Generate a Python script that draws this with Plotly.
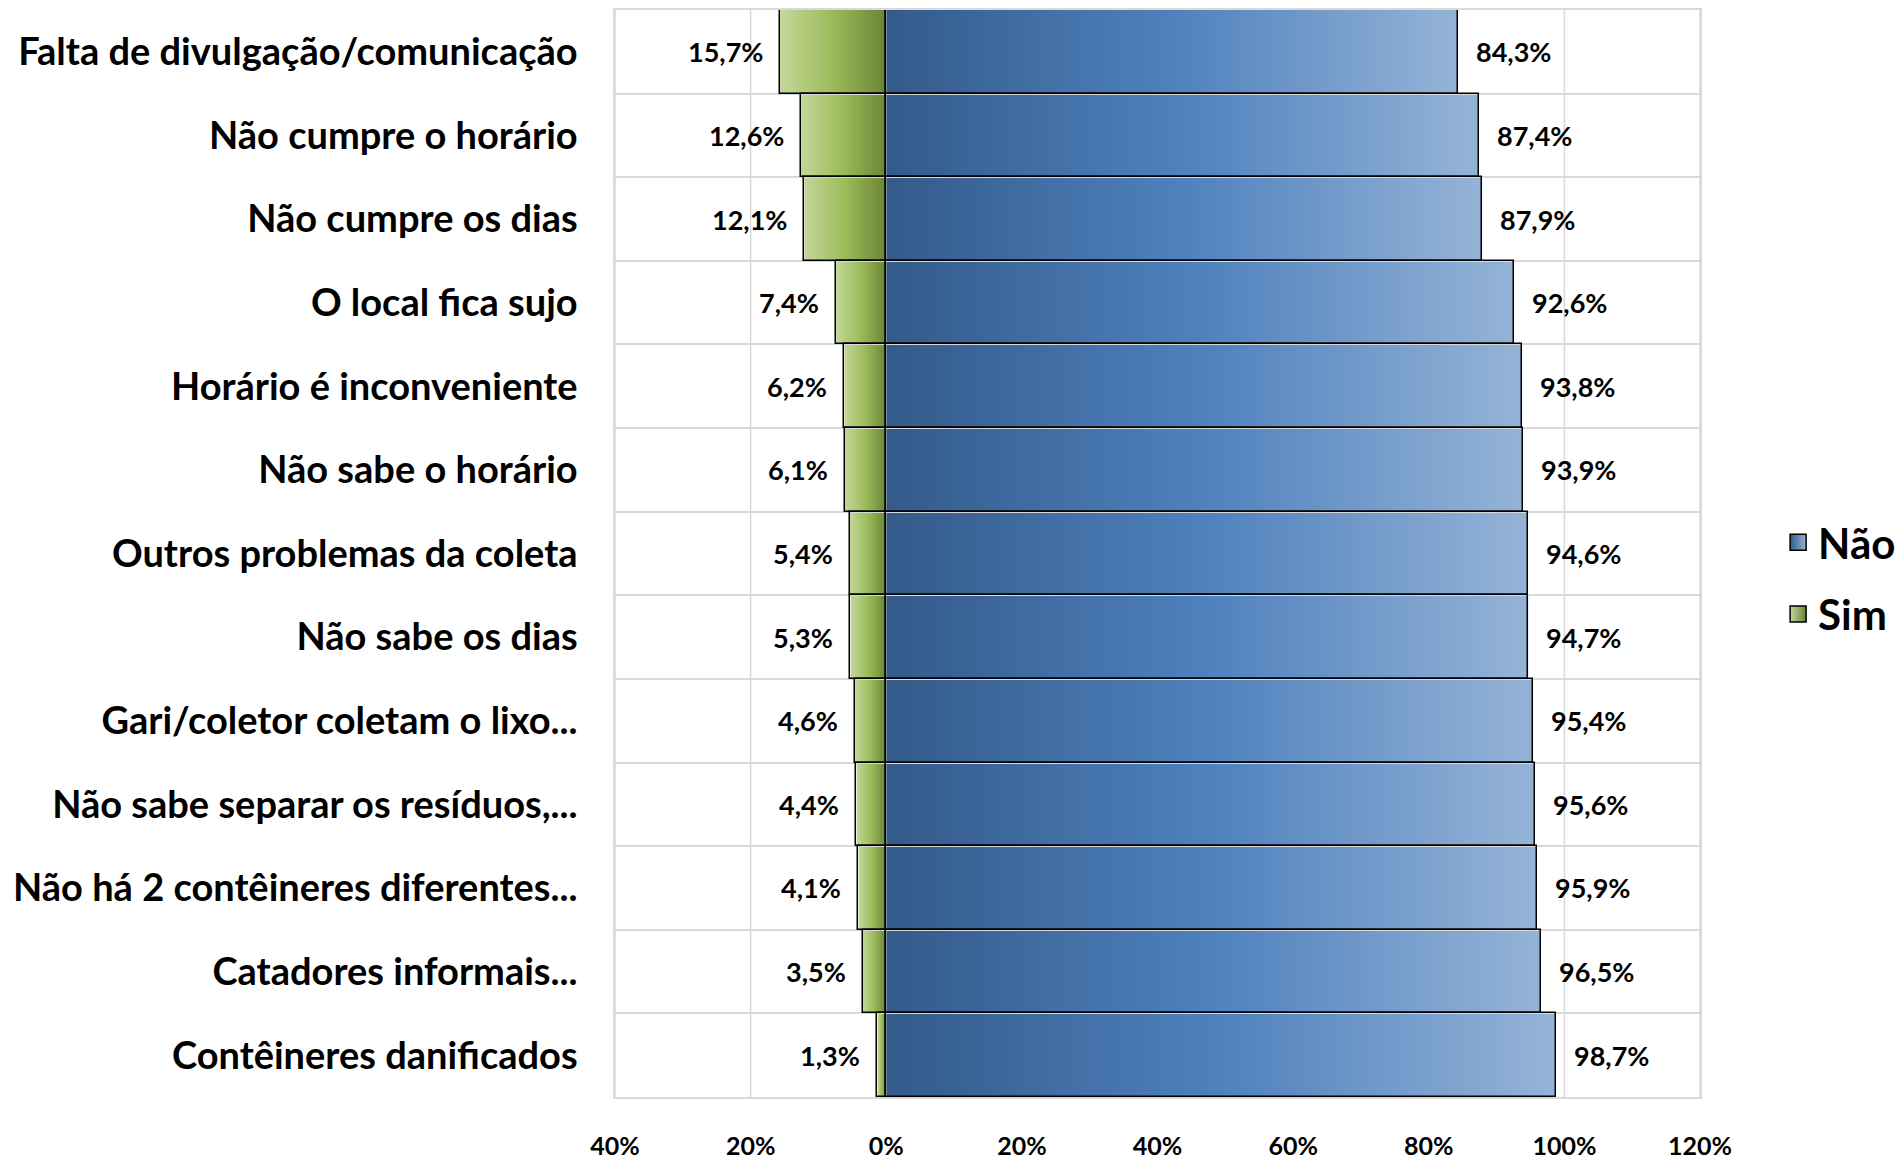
import base64
import plotly.graph_objects as go

categories = [
    "Falta de divulgação/comunicação",
    "Não cumpre o horário",
    "Não cumpre os dias",
    "O local fica sujo",
    "Horário é inconveniente",
    "Não sabe o horário",
    "Outros problemas da coleta",
    "Não sabe os dias",
    "Gari/coletor coletam o lixo...",
    "Não sabe separar os resíduos,...",
    "Não há 2 contêineres diferentes...",
    "Catadores informais...",
    "Contêineres danificados",
]
sim = [15.7, 12.6, 12.1, 7.4, 6.2, 6.1, 5.4, 5.3, 4.6, 4.4, 4.1, 3.5, 1.3]
nao = [84.3, 87.4, 87.9, 92.6, 93.8, 93.9, 94.6, 94.7, 95.4, 95.6, 95.9, 96.5, 98.7]
x_tickvals = [-40, -20, 0, 20, 40, 60, 80, 100, 120]
x_ticktext = ["40%", "20%", "0%", "20%", "40%", "60%", "80%", "100%", "120%"]

FONT = "Lato, 'Open Sans', sans-serif"
XMIN, XMAX = -40, 120
GRID = "#D9D9D9"


def grad_uri(stops):
    s = "".join(f"<stop offset='{o}' stop-color='{c}'/>" for o, c in stops)
    svg = ("<svg xmlns='http://www.w3.org/2000/svg' width='100' height='10' preserveAspectRatio='none'>"
           "<defs><linearGradient id='g' x1='0' x2='1' y1='0' y2='0'>" + s +
           "</linearGradient></defs><rect x='0' y='0' width='100' height='10' fill='url(#g)'/></svg>")
    return "data:image/svg+xml;base64," + base64.b64encode(svg.encode()).decode()


blue_uri = grad_uri([(0, "#335A8A"), (0.5, "#4F81BD"), (1, "#95B3D7")])
green_uri = grad_uri([(0, "#C4D79B"), (0.5, "#9BBB59"), (1, "#6A8437")])

ys = list(range(len(categories)))
ylo, yhi = -0.5, len(categories) - 0.5
fig = go.Figure()

fig.add_trace(go.Bar(
    y=ys, x=nao, orientation="h", base=0, name="Não", showlegend=False,
    marker=dict(color="rgba(0,0,0,0)", line=dict(color="black", width=1.5)),
    hoverinfo="skip",
))
fig.add_trace(go.Bar(
    y=ys, x=[-v for v in sim], orientation="h", name="Sim", showlegend=False,
    marker=dict(color="rgba(0,0,0,0)", line=dict(color="black", width=1.5)),
    hoverinfo="skip",
))

# legend entries
fig.add_trace(go.Scatter(
    x=[None], y=[None], mode="markers", name="Não", legendgroup="a",
    marker=dict(symbol="square", size=16, color="#335A8A",
                gradient=dict(type="horizontal", color="#95B3D7"),
                line=dict(color="black", width=1.5)),
))
fig.add_trace(go.Scatter(
    x=[None], y=[None], mode="markers", name="Sim", legendgroup="b",
    marker=dict(symbol="square", size=16, color="#C4D79B",
                gradient=dict(type="horizontal", color="#6A8437"),
                line=dict(color="black", width=1.5)),
))

images = []
annotations = []
for i, (s, n) in enumerate(zip(sim, nao)):
    images.append(dict(source=blue_uri, xref="x", yref="y", x=0, y=i, sizex=n, sizey=1,
                       xanchor="left", yanchor="middle", sizing="stretch", layer="below"))
    images.append(dict(source=green_uri, xref="x", yref="y", x=-s, y=i, sizex=s, sizey=1,
                       xanchor="left", yanchor="middle", sizing="stretch", layer="below"))
    annotations.append(dict(x=n, y=i, xref="x", yref="y", xanchor="left", yanchor="middle",
                            xshift=16, showarrow=False,
                            text=f"{n:.1f}".replace(".", ",") + "%",
                            font=dict(family=FONT, size=27, color="black", weight="bold")))
    annotations.append(dict(x=-s, y=i, xref="x", yref="y", xanchor="right", yanchor="middle",
                            xshift=-15, showarrow=False,
                            text=f"{s:.1f}".replace(".", ",") + "%",
                            font=dict(family=FONT, size=27, color="black", weight="bold")))

# vertical gridlines drawn beneath the gradient fills
shapes = [dict(type="line", xref="x", yref="y", x0=t, x1=t, y0=ylo, y1=yhi, layer="below",
               line=dict(color=GRID, width=1.5)) for t in x_tickvals]

fig.update_layout(
    width=1895, height=1152,
    margin=dict(l=607, r=203, t=0, b=56),
    paper_bgcolor="white", plot_bgcolor="white",
    barmode="overlay", bargap=0,
    images=images, annotations=annotations, shapes=shapes,
    showlegend=True,
    legend=dict(x=1.072, y=0.477, xanchor="left", yanchor="middle",
                font=dict(family=FONT, size=42, color="black", weight="bold"),
                tracegroupgap=14, itemwidth=30),
    xaxis=dict(range=[XMIN, XMAX], tickvals=x_tickvals, ticktext=x_ticktext,
               showgrid=False, zeroline=False, layer="below traces",
               showline=True, linecolor=GRID, linewidth=1.5, mirror=True,
               ticks="", ticklabelstandoff=26,
               tickfont=dict(family=FONT, size=25, color="black", weight="bold")),
    yaxis=dict(range=[yhi, ylo], tickvals=ys, ticktext=categories,
               showgrid=False, zeroline=False, layer="below traces",
               minor=dict(tick0=0.5, dtick=1, showgrid=True, gridcolor=GRID, gridwidth=1.5, ticks=""),
               showline=True, linecolor=GRID, linewidth=1.5, mirror=True,
               ticks="", ticklabelstandoff=28,
               tickfont=dict(family=FONT, size=38, color="black", weight="bold")),
    yaxis2=dict(overlaying="y", anchor="free", position=(0 - XMIN) / (XMAX - XMIN), side="left",
                range=[yhi, ylo], tickvals=ys, showticklabels=False,
                showgrid=False, zeroline=False, showline=True, linecolor="black", linewidth=1.5,
                ticks="outside", ticklen=10, tickwidth=1.5, tickcolor="black"),
)

fig.write_html("out.html")
